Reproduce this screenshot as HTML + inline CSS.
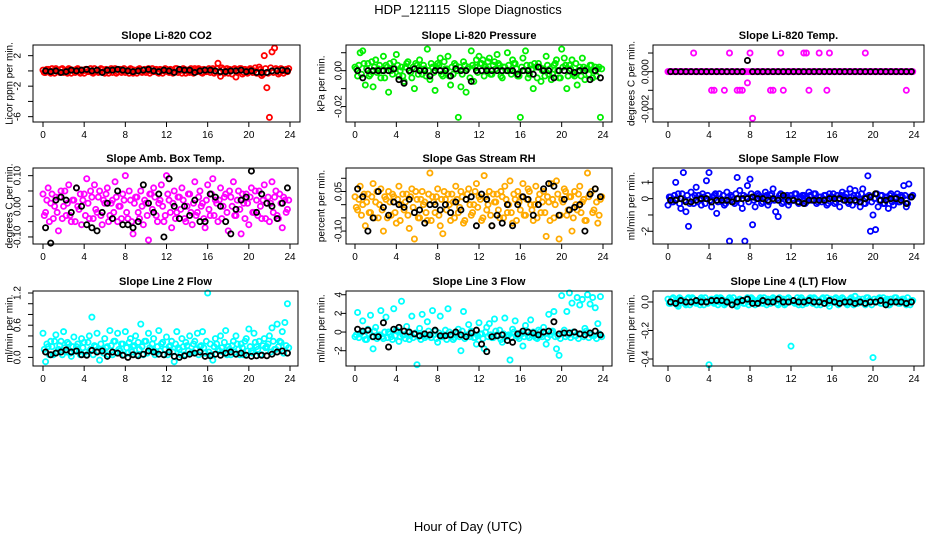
<!DOCTYPE html>
<html><head><meta charset="utf-8">
<style>
html,body{margin:0;padding:0;background:#fff;}
svg{display:block;font-family:"Liberation Sans",sans-serif;}
</style></head>
<body>
<svg id="chart" width="936" height="540" viewBox="0 0 936 540" xmlns="http://www.w3.org/2000/svg">
<text x="468" y="14" font-size="13" text-anchor="middle" xml:space="preserve">HDP_121115  Slope Diagnostics</text>
<text x="468" y="531" font-size="13" text-anchor="middle">Hour of Day (UTC)</text>
</svg>
<script>
const hourTicks = [0,4,8,12,16,20,24];
const co2Vals = [0.1,-0.2,0.2,-0.3,0.0,0.3,-0.1,0.2,-0.2,0.1,0.3,-0.3,0.0,0.2,-0.1,0.1,-0.3,0.2,0.0,-0.2,0.3,0.1,-0.1,0.2,-0.3,0.0,0.1,-0.2,0.3,-0.1,0.2,0.0,-0.2,0.1,0.3,-0.3,0.0,0.2,-0.1,0.1,-0.2,0.3,0.0,-0.1,0.2,-0.3,0.1,0.0,0.2,-0.2,0.1,-0.1,0.3,0.0,-0.3,0.2,0.1,-0.2,0.0,0.3,-0.1,0.2,-0.3,0.1,0.0,-0.2,0.3,-0.1,1.0,-0.7,0.2,0.0,-0.3,0.1,0.2,-0.8,0.0,0.3,-0.2,0.1,-0.1,0.2,0.0,-0.3,0.5,-0.6,2.0,-2.2,-6.1,2.5,3.0,0.1,-0.2,0.2,0.0,-0.1];
const co2Vals2 = [-0.2,0.2,0.0,0.3,-0.3,0.1,-0.2,0.3,0.0,-0.3,0.2,0.1,-0.2,0.3,-0.3,0.0,0.2,-0.1,0.3,-0.3,0.0,-0.2,0.3,-0.1,0.2,-0.3,0.3,0.1,-0.3,0.2,-0.2,0.3,0.0,-0.3,0.2,0.1,-0.3,0.3,-0.2,0.2,0.0,-0.3,0.3,0.1,-0.2,0.2,-0.3,0.3,-0.1,0.2,-0.3,0.3,-0.2,0.1,0.3,-0.3,-0.1,0.3,-0.3,0.1,0.3,-0.2,0.2,-0.1,0.3,0.1,-0.3,0.3,-0.2,0.4,-0.3,0.3,0.2,-0.4,0.3,-0.2,0.3,-0.4,0.2,-0.3,0.3,-0.2,0.4,-0.3,0.2,-0.4,0.3,-0.3,0.4,-0.2,0.3,-0.4,0.3,-0.3,0.2,0.3];
const co2Mean = [0.0,-0.1,0.0,-0.2,-0.1,0.1,0.0,0.1,0.2,0.0,0.1,-0.2,0.1,0.1,0.2,0.1,0.0,-0.1,0.0,0.1,0.2,0.0,-0.1,0.1,0.0,-0.2,0.2,0.1,0.1,-0.2,0.0,0.1,0.1,0.0,-0.1,-0.1,0.0,0.0,0.1,-0.1,0.0,-0.2,-0.2,-0.2,0.0,0.0,0.1,0.0];
const presVals = [0.002,-0.003,0.010,0.011,-0.008,0.004,-0.002,-0.009,0.006,0.001,-0.004,0.008,0.003,-0.012,0.000,0.005,0.009,-0.003,0.002,-0.006,0.004,0.000,-0.004,-0.010,0.003,0.006,-0.002,0.001,0.012,-0.005,0.002,-0.011,0.004,0.007,-0.003,0.001,0.008,-0.008,-0.002,0.003,-0.026,-0.009,0.005,-0.012,0.002,0.011,-0.006,0.006,0.008,0.004,-0.003,0.001,0.007,-0.002,0.005,0.009,0.003,-0.004,0.002,0.010,0.000,0.006,0.004,-0.003,-0.026,0.007,0.011,-0.004,0.003,-0.010,0.002,0.004,-0.006,0.001,0.008,-0.002,-0.005,0.003,0.006,-0.004,0.012,0.007,-0.010,0.003,0.006,-0.003,-0.008,0.002,0.007,-0.005,0.001,0.003,-0.004,0.002,0.001,-0.026];
const presVals2 = [0.001,0.003,-0.002,0.004,0.001,-0.003,0.005,0.002,-0.001,0.003,0.000,-0.004,0.002,0.004,-0.002,0.001,0.003,0.000,-0.003,0.002,0.005,-0.001,0.002,0.004,-0.002,0.001,0.003,-0.003,0.000,0.004,-0.001,0.002,0.003,-0.002,0.005,0.001,-0.003,0.002,0.004,0.000,0.002,-0.002,0.003,0.001,-0.004,0.003,0.002,-0.001,0.004,0.006,0.002,0.005,-0.002,0.003,0.001,0.004,-0.003,0.002,0.000,0.003,-0.002,0.004,0.001,-0.003,0.002,0.000,0.003,-0.002,0.001,0.004,-0.004,0.002,0.000,-0.003,0.003,0.001,-0.002,0.004,0.000,-0.004,0.002,0.003,-0.003,0.001,-0.002,0.004,0.000,-0.003,0.002,0.001,-0.002,0.003,0.000,-0.003,0.002,0.001];
const presMean = [0.000,-0.004,0.000,0.000,0.000,0.000,0.000,0.001,-0.005,-0.007,0.000,0.001,0.000,0.000,-0.003,0.000,0.000,0.000,-0.003,0.001,0.000,0.000,-0.006,0.000,0.000,0.000,0.000,0.000,0.000,0.000,0.000,-0.002,0.000,0.000,-0.002,0.002,0.000,0.000,-0.004,0.000,0.000,0.000,-0.001,0.000,0.000,-0.005,0.000,-0.004];
const tempVals = [0,0,0,0,0,0,0,0,0,0,0.001,0,0,0,0,0,0,-0.001,-0.001,0,0,0,-0.001,0,0.001,0,0,-0.001,-0.001,-0.001,0,-0.0006,0.001,-0.0025,0,0,0,0,0,0,-0.001,-0.001,0,0,0.001,-0.001,0,0,0,0,0,0,0,0.001,0.001,-0.001,0,0,0,0.001,0,0,-0.001,0.001,0,0,0,0,0,0,0,0,0,0,0,0,0,0.001,0,0,0,0,0,0,0,0,0,0,0,0,0,0,0,-0.001,0,0];
const tempVals2 = [0,0,0,0,0,0,0,0,0,0,0,0,0,0,0,0,0,0,0,0,0,0,0,0,0,0,0,0,0,0,0,0,0,0,0,0,0,0,0,0,0,0,0,0,0,0,0,0,0,0,0,0,0,0,0,0,0,0,0,0,0,0,0,0,0,0,0,0,0,0,0,0,0,0,0,0,0,0,0,0,0,0,0,0,0,0,0,0,0,0,0,0,0,0,0,0];
const tempMean = [0,0,0,0,0,0,0,0,0,0,0,0,0,0,0,0.0006,0,0,0,0,0,0,0,0,0,0,0,0,0,0,0,0,0,0,0,0,0,0,0,0,0,0,0,0,0,0,0,0];
const ambVals = [0.04,-0.02,0.06,0.01,-0.04,0.03,-0.08,0.05,0.00,-0.03,0.07,-0.05,0.02,0.06,-0.01,-0.06,0.04,0.09,-0.04,0.03,0.07,-0.02,0.05,-0.06,0.01,0.06,-0.03,0.02,0.08,-0.05,0.00,0.04,0.10,-0.04,0.02,-0.09,0.03,-0.02,0.05,-0.06,0.01,-0.11,0.04,0.06,-0.03,0.01,0.07,-0.05,0.10,0.02,-0.07,0.05,-0.02,0.03,0.06,-0.04,0.00,0.04,-0.06,0.08,-0.02,0.05,0.01,-0.07,0.07,-0.03,0.09,0.02,-0.05,0.06,0.00,0.04,-0.08,0.03,0.08,-0.03,0.05,-0.09,0.01,0.04,-0.06,0.06,-0.02,0.02,0.05,-0.04,0.07,0.01,-0.05,0.08,0.03,-0.03,0.04,-0.07,0.02,-0.01];
const ambVals2 = [-0.03,0.02,-0.05,0.04,0.00,-0.02,0.03,-0.04,0.05,0.01,-0.03,0.02,-0.05,0.00,0.04,0.02,-0.03,0.01,0.05,-0.04,-0.01,0.03,-0.03,0.02,0.04,-0.05,0.01,-0.02,0.03,0.00,-0.04,0.02,-0.02,0.05,-0.05,0.01,0.03,-0.04,0.00,0.02,-0.03,0.04,-0.01,0.03,-0.05,0.02,0.00,-0.03,0.04,-0.02,0.01,-0.04,0.03,-0.01,0.02,-0.05,0.04,-0.02,0.01,-0.03,0.03,0.00,-0.04,0.02,-0.01,0.04,-0.03,0.01,0.02,-0.04,0.03,-0.02,0.05,0.00,-0.03,0.02,-0.01,0.04,-0.04,0.01,0.03,-0.02,0.05,-0.03,0.00,0.02,-0.04,0.03,0.01,-0.02,0.05,-0.04,0.01,0.03,-0.02,0.02];
const ambMean = [-0.07,-0.12,0.02,0.03,0.02,-0.02,0.06,0.00,-0.06,-0.07,-0.08,-0.02,0.01,-0.04,0.05,-0.06,-0.06,-0.07,-0.05,0.07,0.01,-0.02,0.04,-0.10,0.09,0.00,-0.04,0.00,-0.03,0.02,-0.05,-0.05,0.04,0.03,0.00,-0.05,-0.09,-0.01,0.02,0.03,0.115,-0.02,0.04,0.01,0.00,-0.04,0.01,0.06];
const rhVals = [0.03,-0.02,0.07,0.00,-0.08,0.04,-0.03,0.08,0.01,-0.05,0.06,-0.10,0.02,0.05,-0.04,0.03,-0.07,0.07,0.00,-0.02,0.04,-0.09,0.06,-0.13,0.02,-0.05,0.05,0.01,-0.06,0.12,0.03,-0.03,0.06,-0.08,-0.11,0.02,0.04,-0.06,0.01,0.07,-0.03,0.05,-0.07,0.02,0.06,-0.04,0.00,0.08,0.03,-0.06,0.11,-0.02,0.05,-0.08,0.01,0.04,-0.05,0.03,0.07,-0.03,0.09,-0.07,0.02,0.05,-0.02,0.08,-0.04,0.06,0.00,-0.06,0.07,0.02,-0.03,0.05,-0.12,0.01,0.08,-0.05,0.09,-0.13,0.02,0.06,-0.04,0.03,-0.10,0.05,-0.02,0.07,0.01,-0.06,0.12,0.04,-0.03,0.06,-0.07,0.02];
const rhVals2 = [-0.01,0.02,-0.04,0.04,0.01,-0.03,0.03,-0.05,0.05,0.00,-0.02,0.03,-0.05,0.01,0.04,-0.03,0.02,-0.06,0.04,0.01,-0.04,0.03,-0.01,0.05,-0.05,0.02,0.00,-0.03,0.04,-0.06,0.01,0.03,-0.04,0.02,0.05,-0.02,0.00,0.04,-0.05,0.02,-0.01,0.03,-0.06,0.04,0.00,-0.03,0.05,-0.01,0.02,-0.05,0.03,0.00,-0.04,0.04,0.01,-0.02,0.05,-0.05,0.02,0.00,-0.03,0.04,-0.06,0.01,0.03,-0.04,0.02,0.05,-0.02,0.00,-0.05,0.04,0.01,-0.03,0.03,-0.06,0.02,0.00,0.04,-0.04,0.01,0.05,-0.02,0.03,-0.05,0.00,0.04,-0.03,0.02,-0.06,0.03,0.05,-0.02,0.01,-0.04,0.03];
const rhMean = [0.06,0.03,-0.10,-0.05,0.05,-0.01,-0.04,0.01,0.00,-0.01,0.02,-0.03,-0.02,-0.07,0.00,0.00,-0.02,0.00,-0.03,0.01,-0.02,0.02,0.03,-0.08,0.04,0.02,-0.08,-0.04,-0.07,0.00,-0.08,0.00,0.03,0.02,-0.04,0.00,0.06,0.08,0.07,-0.04,0.02,-0.02,-0.01,0.00,-0.10,0.04,0.06,0.03];
const flowVals = [-0.4,0.1,-0.2,1.0,0.3,-0.6,1.6,-0.8,-1.7,0.4,-0.3,0.7,0.2,-0.4,0.1,1.1,1.6,-0.5,0.2,-0.9,0.3,-0.2,-0.4,0.4,-2.6,0.1,-0.3,1.3,0.5,-0.6,-2.6,0.8,1.2,-1.6,-0.5,0.3,0.1,-0.2,0.4,-0.4,0.2,0.6,-0.8,-1.1,0.3,-0.2,0.1,-0.4,0.2,-0.1,0.3,-0.3,0.1,0.2,-0.2,0.4,-0.1,0.3,-0.3,0.1,-0.2,0.2,-0.4,0.3,0.1,-0.3,0.2,-0.5,0.4,0.1,-0.2,0.6,-0.4,0.5,0.2,-0.5,0.6,-0.3,1.4,-2.0,-1.0,-1.9,-0.5,0.2,-0.3,0.1,-0.6,0.3,-0.4,0.1,-0.2,0.2,0.8,-0.5,0.9,0.1];
const flowVals2 = [0.1,-0.2,0.2,0.0,-0.3,0.3,-0.1,0.2,-0.3,0.1,0.2,-0.2,0.0,0.3,-0.3,0.2,-0.1,0.1,0.3,-0.2,0.0,0.2,-0.3,0.1,0.2,-0.2,0.3,0.0,-0.3,0.2,0.1,-0.2,0.3,-0.1,0.0,0.2,-0.3,0.1,0.2,-0.2,0.3,-0.1,0.0,0.2,-0.3,0.1,0.2,-0.2,0.0,0.3,-0.2,0.1,0.2,-0.3,0.0,0.2,-0.1,0.3,-0.2,0.1,0.0,0.2,-0.3,0.1,0.3,-0.2,0.0,0.2,-0.1,0.3,-0.3,0.1,0.2,-0.2,0.0,0.3,-0.3,0.1,0.2,-0.2,0.0,0.3,-0.1,0.2,-0.3,0.1,0.2,-0.2,0.0,0.3,-0.2,0.1,0.2,-0.3,0.1,0.2];
const flowMean = [-0.1,-0.1,0.0,-0.2,-0.2,-0.1,0.0,0.0,-0.2,-0.1,-0.1,-0.1,-0.2,0.0,0.0,0.0,0.1,0.0,0.0,-0.1,0.0,-0.1,0.2,-0.1,-0.1,-0.2,-0.3,-0.1,-0.1,-0.1,-0.1,0.0,0.0,0.0,-0.1,-0.1,-0.1,-0.2,0.0,0.1,0.3,-0.1,-0.1,0.0,0.0,-0.1,-0.3,0.1];
const l2Vals = [0.45,-0.08,0.20,0.30,0.05,0.42,0.15,0.30,0.48,0.10,0.25,0.02,0.38,0.20,0.10,0.35,0.28,0.05,0.40,0.75,0.22,0.45,-0.05,0.15,0.35,0.20,0.50,0.05,0.30,0.45,0.12,0.25,0.48,0.08,0.35,0.20,0.40,0.28,0.62,0.05,0.30,0.45,0.15,0.35,0.10,0.50,0.25,0.05,0.38,0.20,0.30,-0.08,0.48,0.15,0.35,0.05,0.22,0.40,0.10,0.30,0.45,0.20,0.48,0.08,1.20,0.25,-0.05,0.35,0.15,0.40,0.10,0.50,0.20,0.05,0.30,0.40,0.15,0.25,0.05,0.35,0.53,0.12,0.45,0.20,0.30,0.05,0.35,0.20,0.40,0.55,0.15,0.62,0.30,0.48,0.65,1.00];
const l2Vals2 = [0.15,0.25,0.05,0.20,0.30,0.10,0.22,0.05,0.18,0.28,0.08,0.20,0.12,0.25,0.05,0.18,0.10,0.28,0.15,0.05,0.20,0.12,0.25,0.08,0.18,0.05,0.22,0.30,0.10,0.15,0.25,0.05,0.18,0.28,0.10,0.22,0.05,0.15,0.20,0.30,0.08,0.18,0.25,0.05,0.20,0.12,0.28,0.15,0.05,0.22,0.10,0.25,0.18,0.05,0.20,0.28,0.12,0.08,0.25,0.15,0.05,0.22,0.18,0.30,0.10,0.05,0.20,0.25,0.12,0.18,0.28,0.05,0.15,0.22,0.10,0.25,0.05,0.18,0.30,0.12,0.20,0.08,0.28,0.15,0.05,0.22,0.18,0.25,0.10,0.30,0.15,0.20,0.28,0.08,0.22,0.18];
const l2Mean = [0.10,0.05,0.08,0.10,0.14,0.10,0.12,0.05,0.04,0.13,0.10,0.12,0.02,0.10,0.08,0.04,0.00,0.05,0.03,0.06,0.12,0.10,0.06,0.05,0.10,0.02,0.00,0.03,0.06,0.08,0.10,0.02,0.03,0.06,0.04,0.08,0.10,0.06,0.08,0.04,0.02,0.03,0.04,0.03,0.06,0.10,0.12,0.08];
const l3Vals = [-0.5,2.1,-0.2,1.2,-0.8,0.3,1.8,-1.8,0.5,-0.4,2.3,-0.7,1.6,0.0,-0.5,2.5,0.2,-1.0,3.3,-0.3,0.6,-0.8,1.7,-0.2,-3.5,0.4,1.9,-0.6,1.1,-0.3,2.3,0.1,-1.1,1.7,-0.5,0.2,2.5,-0.4,-0.8,0.0,0.3,-2.0,2.2,-0.5,0.8,0.1,-0.6,-1.3,1.0,-0.2,-1.8,0.5,0.9,-0.6,1.4,-0.3,0.2,-1.1,1.5,-0.4,-3.0,0.3,1.2,-0.5,-0.1,-1.5,0.7,-0.4,1.3,0.0,-0.6,0.2,-0.3,0.5,-1.3,1.9,0.0,2.2,-1.8,-2.5,3.9,0.2,2.2,4.2,3.1,-0.4,3.7,2.9,3.5,0.4,4.0,3.0,3.7,2.6,0.9,3.8];
const l3Vals2 = [-0.3,-0.6,0.0,-0.4,-0.8,-0.2,-0.5,0.1,-0.7,-0.3,-0.5,0.0,-0.6,-0.2,-0.8,-0.4,0.1,-0.5,-0.3,-0.7,0.0,-0.4,-0.6,-0.1,-0.5,-0.8,-0.2,-0.4,0.1,-0.6,-0.3,-0.7,-0.1,-0.5,-0.3,-0.8,0.0,-0.4,-0.6,-0.2,-0.5,0.1,-0.7,-0.3,-0.5,-0.1,-0.6,-0.4,-0.2,-0.7,0.0,-0.5,-0.3,-0.6,0.1,-0.4,-0.8,-0.2,-0.5,-0.3,-0.6,0.0,-0.4,-0.7,-0.2,-0.5,0.1,-0.6,-0.3,-0.4,-0.7,0.0,-0.5,-0.2,-0.6,-0.3,0.1,-0.5,-0.4,-0.7,-0.1,-0.5,-0.3,-0.6,0.0,-0.4,-0.7,-0.2,-0.5,0.1,-0.6,-0.3,-0.4,-0.7,-0.2,-0.5];
const l3Mean = [0.3,0.1,0.2,-0.5,-0.5,1.0,-1.6,0.3,0.5,0.1,0.0,-0.2,-0.4,-0.2,-0.3,0.2,-0.4,-0.4,-0.3,0.0,-0.3,-0.5,-0.1,0.2,-1.3,-2.1,-0.5,-0.4,-0.3,-0.9,-1.1,-0.2,0.1,0.0,-0.1,-0.3,0.0,0.1,1.1,-0.2,-0.1,-0.1,0.0,-0.2,-0.3,-0.1,0.1,-0.3];
const l4Vals = [0.02,-0.01,0.03,0.00,-0.03,0.02,0.01,-0.02,0.03,0.00,0.02,-0.01,0.01,0.03,-0.02,0.00,-0.44,0.02,-0.01,0.03,0.00,0.02,-0.02,0.01,0.03,-0.01,0.00,-0.03,0.02,0.01,-0.01,0.03,0.00,0.02,-0.02,0.01,0.03,-0.01,0.00,0.02,-0.01,0.03,0.01,-0.02,0.00,0.02,-0.01,0.03,-0.31,0.01,0.00,-0.02,0.03,0.01,-0.01,0.02,0.00,0.03,-0.02,0.01,0.02,-0.01,0.03,-0.03,0.00,0.02,-0.01,0.01,0.03,0.00,-0.02,0.02,0.01,0.04,-0.01,0.00,0.02,-0.02,0.03,0.01,-0.39,0.00,0.02,-0.01,0.03,0.01,-0.02,0.02,0.00,0.03,-0.01,0.01,0.02,-0.02,0.00,0.01];
const l4Vals2 = [-0.01,0.02,0.00,-0.02,0.03,0.01,-0.01,0.02,-0.02,0.03,0.00,0.01,-0.02,0.02,0.03,-0.01,0.01,0.00,0.02,-0.02,0.03,0.01,-0.01,0.00,0.02,0.03,-0.02,0.01,0.00,-0.01,0.02,-0.02,0.03,0.01,0.00,-0.01,0.02,0.03,-0.02,0.01,0.00,0.02,-0.01,0.03,0.01,-0.02,0.02,0.00,0.01,-0.01,0.03,0.02,-0.02,0.00,0.01,0.03,-0.01,0.02,0.00,-0.02,0.03,0.01,-0.01,0.02,0.00,0.03,-0.02,0.01,0.02,-0.01,0.00,0.03,-0.02,0.01,0.02,0.00,-0.01,0.03,0.01,-0.02,0.02,0.00,0.03,-0.01,0.01,0.02,-0.02,0.00,0.03,0.01,-0.01,0.02,0.00,0.03,-0.02,0.01];
const l4Mean = [0.00,-0.01,0.01,0.00,0.00,0.01,0.00,0.00,0.01,0.01,0.01,0.00,-0.02,0.00,0.01,0.02,-0.01,-0.01,0.01,0.00,0.00,0.02,0.00,0.00,0.01,0.00,0.00,0.01,0.00,0.00,-0.01,0.01,0.00,-0.01,0.00,0.00,-0.01,0.00,-0.01,0.00,0.00,0.01,-0.02,0.00,0.00,0.00,-0.01,0.00];

const panels = [
 {name:'co2',title:'Slope Li-820 CO2',ylab:'Licor ppm per min.',vals:co2Vals,vals2:co2Vals2,mean:co2Mean,col:'#ff0000',box:[33,45,300,122],x0:43,x24:290,ylim:[-6.7,3.4],ticks:[-6,-4,-2,0,2],labels:['-6','','-2','','2'],tx:17,lx:9},
 {name:'pressure',title:'Slope Li-820 Pressure',ylab:'kPa per min.',vals:presVals,vals2:presVals2,mean:presMean,col:'#00ee00',box:[346,45,612,122],x0:355,x24:603,ylim:[-0.0286,0.0143],ticks:[-0.02,-0.01,0,0.01],labels:['-0.02','','0.00',''],tx:338,lx:321},
 {name:'temp',title:'Slope Li-820 Temp.',ylab:'degrees C per min.',vals:tempVals,vals2:tempVals2,mean:tempMean,col:'#ff00ff',box:[653,45,924,122],x0:668,x24:914,ylim:[-0.0027,0.00143],ticks:[-0.002,-0.001,0,0.001],labels:['-0.002','','0.000',''],tx:645,lx:631},
 {name:'amb-box-temp',title:'Slope Amb. Box Temp.',ylab:'degrees C per min.',vals:ambVals,vals2:ambVals2,mean:ambMean,col:'#ff00ff',box:[33,168,298,244],x0:43,x24:290,ylim:[-0.123,0.125],ticks:[-0.1,-0.05,0,0.05,0.1],labels:['-0.10','','0.00','','0.10'],tx:17,lx:9},
 {name:'gas-rh',title:'Slope Gas Stream RH',ylab:'percent per min.',vals:rhVals,vals2:rhVals2,mean:rhMean,col:'#ffaa00',box:[346,168,612,244],x0:355,x24:603,ylim:[-0.149,0.139],ticks:[-0.1,-0.05,0,0.05,0.1],labels:['-0.10','','','0.05',''],tx:338,lx:321},
 {name:'sample-flow',title:'Slope Sample Flow',ylab:'ml/min per min.',vals:flowVals,vals2:flowVals2,mean:flowMean,col:'#0000ff',box:[653,168,924,244],x0:668,x24:914,ylim:[-2.78,1.88],ticks:[-2,-1,0,1],labels:['-2','','0','1'],tx:645,lx:631},
 {name:'line2-flow',title:'Slope Line 2 Flow',ylab:'ml/min per min.',vals:l2Vals,vals2:l2Vals2,mean:l2Mean,col:'#00ffff',box:[33,291,298,366],x0:43,x24:290,ylim:[-0.16,1.237],ticks:[0,0.2,0.4,0.6,0.8,1.0,1.2],labels:['0.0','','','0.6','','','1.2'],tx:17,lx:9},
 {name:'line3-flow',title:'Slope Line 3 Flow',ylab:'ml/min per min.',vals:l3Vals,vals2:l3Vals2,mean:l3Mean,col:'#00ffff',box:[346,291,612,366],x0:355,x24:603,ylim:[-3.64,4.4],ticks:[-2,0,2,4],labels:['-2','0','2','4'],tx:338,lx:321},
 {name:'line4-flow',title:'Slope Line 4 (LT) Flow',ylab:'ml/min per min.',vals:l4Vals,vals2:l4Vals2,mean:l4Mean,col:'#00ffff',box:[653,291,924,366],x0:668,x24:914,ylim:[-0.449,0.077],ticks:[-0.4,-0.2,0],labels:['-0.4','-0.2','0.0'],tx:645,lx:631}
];

const svg = document.getElementById('chart');
const NS = 'http://www.w3.org/2000/svg';
function mk(tag, attrs, parent){
  const e = document.createElementNS(NS, tag);
  for (const k in attrs) e.setAttribute(k, attrs[k]);
  parent.appendChild(e);
  return e;
}
panels.forEach(p => {
  const g = mk('g', {}, svg);
  
  
  const [bx0, by0, bx1, by1] = p.box;
  const xs = h => p.x0 + (h / 24) * (p.x24 - p.x0);
  const ys = v => by1 - (v - p.ylim[0]) / (p.ylim[1] - p.ylim[0]) * (by1 - by0);
  const clip = 'clip-' + p.name;
  const cp = mk('clipPath', {id: clip}, g);
  mk('rect', {x: bx0, y: by0 - 3, width: bx1 - bx0, height: by1 - by0 + 6}, cp);
  const t = mk('text', {x: (bx0 + bx1) / 2, y: by0 - 6, 'font-size': 11, 'font-weight': 'bold', 'text-anchor': 'middle'}, g);
  t.textContent = p.title;
  
  
  const yl = mk('text', {x: p.lx, y: (by0 + by1) / 2, 'font-size': 10, 'text-anchor': 'middle', transform: `rotate(-90 ${p.lx} ${(by0 + by1) / 2})`, dy: '0.35em'}, g);
  yl.textContent = p.ylab;
  
  
  const pts = mk('g', {'clip-path': `url(#${clip})`, fill: 'none', 'stroke-width': 1.8}, g);
  p.vals2.forEach((v, i) => {
    const c = mk('circle', {cx: xs(i * 0.25 + 0.125), cy: ys(v), r: 2.6, stroke: p.col}, pts);
    
    
  });
  p.vals.forEach((v, i) => {
    const c = mk('circle', {cx: xs(i * 0.25), cy: ys(v), r: 2.6, stroke: p.col}, pts);
    
    
  });
  p.mean.forEach((v, i) => {
    const c = mk('circle', {cx: xs(i * 0.5 + 0.25), cy: ys(v), r: 2.6, stroke: '#000'}, pts);
    
    
  });
  const bx = mk('rect', {x: bx0, y: by0, width: bx1 - bx0, height: by1 - by0, fill: 'none', stroke: '#000', 'stroke-width': 1}, g);
  
  
  const ax = mk('g', {stroke: '#000', 'stroke-width': 1}, g);
  
  
  hourTicks.forEach(h => {
    mk('line', {x1: xs(h), x2: xs(h), y1: by1, y2: by1 + 5}, ax);
    const tl = mk('text', {x: xs(h), y: by1 + 16, 'font-size': 10, 'text-anchor': 'middle', stroke: 'none'}, ax);
    tl.textContent = h;
    
    
  });
  const ay = mk('g', {stroke: '#000', 'stroke-width': 1}, g);
  
  
  p.ticks.forEach((v, i) => {
    mk('line', {x1: bx0 - 5, x2: bx0, y1: ys(v), y2: ys(v)}, ay);
    if (p.labels[i]) {
      const tl = mk('text', {x: p.tx, y: ys(v), 'font-size': 10, 'text-anchor': 'middle', stroke: 'none', dy: '0.35em', transform: `rotate(-90 ${p.tx} ${ys(v)})`}, ay);
      tl.textContent = p.labels[i];
      
      
    }
  });
});
</script>
</body></html>
